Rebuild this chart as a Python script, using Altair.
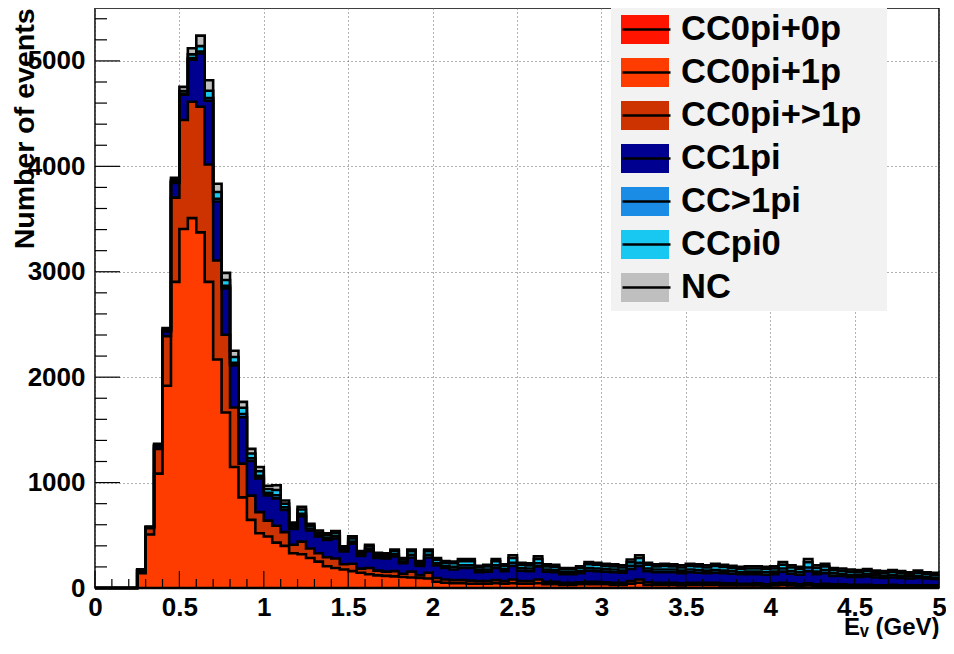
import altair as alt
import pandas as pd

FONT = "Liberation Sans"

categories = ["CC0pi+0p", "CC0pi+1p", "CC0pi+>1p", "CC1pi", "CC>1pi", "CCpi0", "NC"]
colors = ["#ff1400", "#ff3c00", "#cc3300", "#000090", "#1a8ce6", "#19c8f0", "#bfbfbf"]

bin_width = 0.05
bin_low = [round(i * bin_width, 2) for i in range(100)]

cc0pi_0p = [0] * 100
cc0pi_1p = [0, 0, 0, 0, 0, 140, 508, 1085, 1919, 2904,
            3405, 3509, 3374, 2904, 2167, 1665, 1148, 860, 646, 520,
            489, 430, 400, 330, 320, 285, 250, 207, 190, 176,
            160, 144, 130, 120, 115, 110, 105, 100, 95, 90,
            60, 50, 45, 45, 40, 40, 40, 45, 40, 45,
            40, 40, 45, 35, 35, 30, 30, 35, 35, 35,
            35, 30, 30, 40, 50, 30, 30, 30, 30, 25,
            30, 30, 30, 30, 25, 25, 25, 25, 25, 20,
            25, 30, 25, 20, 25, 20, 20, 20, 20, 15,
            15, 15, 15, 15, 15, 15, 15, 15, 15, 15]
cc0pi_mp = [0, 0, 0, 0, 0, 25, 60, 235, 470, 799,
            1035, 1103, 1191, 1113, 940, 737, 564, 320, 230, 200,
            150, 160, 130, 80, 120, 90, 80, 85, 90, 50,
            70, 40, 60, 45, 40, 50, 30, 55, 25, 55,
            35, 30, 30, 30, 30, 25, 25, 30, 25, 35,
            25, 25, 35, 25, 25, 20, 20, 20, 25, 25,
            20, 20, 20, 25, 30, 25, 20, 20, 20, 20,
            20, 20, 20, 20, 20, 20, 15, 15, 20, 15,
            20, 20, 20, 15, 20, 15, 20, 15, 15, 15,
            15, 15, 10, 10, 15, 10, 10, 10, 10, 10]
cc1pi = [0, 0, 0, 0, 0, 5, 8, 25, 45, 140,
         240, 400, 505, 605, 560, 440, 400, 440, 330, 320,
         240, 260, 210, 150, 240, 170, 160, 165, 190, 120,
         190, 120, 160, 120, 125, 140, 100, 135, 90, 145,
         120, 110, 100, 115, 120, 85, 90, 115, 95, 130,
         100, 95, 125, 95, 90, 80, 80, 85, 105, 100,
         100, 100, 95, 115, 130, 105, 100, 100, 100, 95,
         100, 95, 90, 95, 95, 90, 90, 90, 85, 90,
         85, 105, 90, 90, 115, 95, 100, 80, 80, 75,
         75, 80, 75, 70, 70, 70, 65, 70, 65, 60]
ccmpi = [0, 0, 0, 0, 0, 1, 1, 3, 5, 8,
         10, 15, 20, 25, 25, 25, 25, 30, 25, 25,
         25, 30, 25, 15, 25, 20, 15, 20, 20, 15,
         20, 12, 20, 15, 15, 20, 15, 25, 15, 25,
         20, 20, 25, 25, 25, 20, 20, 25, 20, 30,
         25, 25, 30, 20, 20, 20, 20, 20, 25, 25,
         25, 25, 20, 30, 30, 25, 25, 25, 25, 25,
         25, 25, 25, 25, 25, 25, 20, 25, 25, 25,
         25, 30, 25, 25, 35, 25, 30, 25, 20, 20,
         20, 20, 20, 20, 20, 20, 20, 20, 15, 15]
ccpi0 = [0, 0, 0, 0, 0, 2, 2, 7, 10, 16,
         24, 35, 50, 70, 65, 55, 55, 60, 45, 42,
         35, 50, 35, 25, 40, 25, 20, 25, 30, 20,
         30, 20, 25, 20, 20, 30, 20, 35, 15, 35,
         30, 30, 35, 40, 40, 25, 30, 40, 30, 45,
         30, 30, 40, 30, 30, 25, 25, 30, 35, 35,
         30, 30, 30, 35, 45, 35, 30, 35, 30, 30,
         35, 35, 30, 40, 35, 30, 30, 30, 30, 30,
         30, 35, 35, 30, 50, 35, 35, 30, 30, 30,
         25, 30, 25, 25, 30, 25, 20, 30, 25, 25]
nc = [0, 0, 0, 0, 0, 5, 4, 12, 16, 25,
      40, 58, 100, 100, 78, 67, 59, 56, 44, 41,
      31, 45, 30, 20, 25, 20, 20, 18, 20, 14,
      20, 14, 15, 15, 15, 15, 15, 15, 15, 15,
      20, 15, 15, 20, 20, 15, 15, 20, 15, 25,
      20, 20, 25, 20, 20, 15, 15, 15, 20, 20,
      20, 20, 20, 25, 25, 20, 20, 20, 20, 20,
      20, 20, 20, 20, 20, 20, 20, 20, 20, 20,
      20, 25, 20, 20, 30, 25, 25, 20, 20, 20,
      20, 20, 20, 20, 20, 20, 20, 20, 20, 20]

series = [cc0pi_0p, cc0pi_1p, cc0pi_mp, cc1pi, ccmpi, ccpi0, nc]
for s in series:
    assert len(s) == 100

x_major = [0, 0.5, 1, 1.5, 2, 2.5, 3, 3.5, 4, 4.5, 5]
y_major = [0, 1000, 2000, 3000, 4000, 5000]
x_minor = [round(0.1 * i, 1) for i in range(51) if i % 5 != 0]
y_minor = [200 * i for i in range(1, 28) if i % 5 != 0]

rows = []
cum = [0] * 100
for k, (cat, vals) in enumerate(zip(categories, series)):
    for i in range(100):
        cum[i] += vals[i]
        rows.append(dict(cat=cat, cat2=cat + " ", k=k, x=bin_low[i], val=vals[i], hi=cum[i]))
    rows.append(dict(cat=cat, cat2=cat + " ", k=k, x=5.0, val=vals[99], hi=cum[99]))

df = pd.DataFrame(rows)

W, H = 844, 580
YMAX = 5502
xscale = alt.Scale(domain=[0, 5], nice=False, zero=False)
yscale = alt.Scale(domain=[0, YMAX], nice=False)

xaxis = alt.Axis(values=x_major, format="~g", labelFont=FONT, labelFontWeight="bold",
                 labelFontSize=26, labelColor="black", labelPadding=6, labelFlush=False,
                 labelOverlap=False, ticks=False, domain=False, grid=True,
                 gridColor="#666666", gridDash=[1, 3], gridWidth=1,
                 title="E\u1d65 (GeV)", titleFont=FONT, titleFontWeight="bold",
                 titleFontSize=24, titleColor="black", titleX=W, titleY=46,
                 titleAlign="right", titleBaseline="alphabetic")
yaxis = alt.Axis(values=y_major, format="d", labelFont=FONT, labelFontWeight="bold",
                 labelFontSize=26, labelColor="black", labelPadding=10, labelFlush=False,
                 labelOverlap=False, ticks=False, domain=False, grid=True,
                 gridColor="#666666", gridDash=[1, 3], gridWidth=1,
                 title="Number of events", titleFont=FONT, titleFontWeight="bold",
                 titleFontSize=28.5, titleColor="black", titleX=-71, titleY=0,
                 titleAngle=270, titleAlign="right", titleBaseline="middle")

leg_common = dict(orient="none", legendX=526, legendY=0, padding=0, clipHeight=43,
                  rowPadding=0, symbolSize=2304, labelOffset=12, labelFont=FONT,
                  labelFontSize=34.5, labelFontWeight="bold", labelColor="black",
                  title=None, symbolOffset=0, labelLimit=400)

legend_bg = alt.Chart(pd.DataFrame({"a": [0]})).mark_rect(color="#f2f2f2").encode(
    x=alt.value(516), x2=alt.value(792), y=alt.value(0), y2=alt.value(303)
)

fills = alt.Chart(df).mark_area(interpolate="step-after", opacity=1).encode(
    x=alt.X("x:Q", scale=xscale, axis=xaxis),
    y=alt.Y("val:Q", scale=yscale, axis=yaxis, stack="zero"),
    order=alt.Order("k:Q", sort="ascending"),
    color=alt.Color("cat:N", scale=alt.Scale(domain=categories, range=colors),
                    legend=alt.Legend(symbolType="M-1,-0.6H1V0.6H-1Z", symbolStrokeWidth=0,
                                      symbolOpacity=1, **leg_common)),
)

lines = alt.Chart(df).mark_line(interpolate="step-after", color="black", strokeWidth=2.6).encode(
    x=alt.X("x:Q", scale=xscale, axis=xaxis),
    y=alt.Y("hi:Q", scale=yscale, axis=yaxis),
    strokeDash=alt.StrokeDash("cat2:N",
                              scale=alt.Scale(domain=[c + " " for c in categories], range=[[1, 0]] * 7),
                              legend=alt.Legend(symbolType="M-1,0H1", symbolStrokeColor="black",
                                                symbolStrokeWidth=2.6, symbolFillColor="transparent",
                                                labelExpr="''", **leg_common)),
)

def yticks(vals, length):
    return alt.Chart(pd.DataFrame({"v": vals})).mark_rule(color="black", strokeWidth=1.2).encode(
        y=alt.Y("v:Q", scale=yscale, axis=yaxis), x=alt.value(0), x2=alt.value(length))

def xticks(vals, length):
    return alt.Chart(pd.DataFrame({"v": vals})).mark_rule(color="black", strokeWidth=1.2).encode(
        x=alt.X("v:Q", scale=xscale, axis=xaxis), y=alt.value(H), y2=alt.value(H - length))

chart = alt.layer(
    legend_bg, fills, lines,
    yticks(y_major, 25), yticks(y_minor, 12),
    xticks(x_major, 17), xticks(x_minor, 9),
).properties(
    width=W, height=H,
    padding={"left": 87, "top": 0, "right": 7, "bottom": 51},
    autosize=alt.AutoSizeParams(type="none"),
    background="white",
).configure_view(stroke="black", strokeWidth=1.5)

chart.save("out.html", embed_options={"renderer": "svg", "actions": False})
